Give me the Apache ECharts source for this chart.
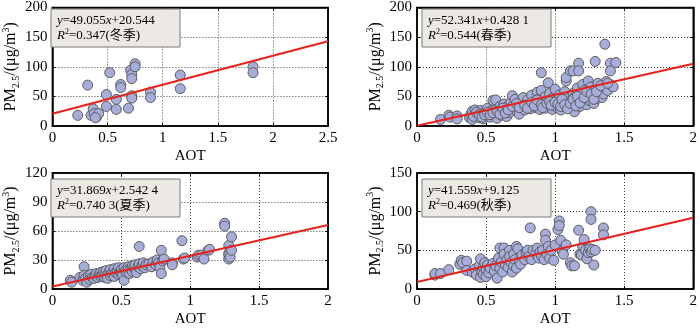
<!DOCTYPE html>
<html>
<head>
<meta charset="utf-8">
<script src="https://cdn.jsdelivr.net/npm/echarts@6/dist/echarts.min.js"></script>
<style>
  html, body { margin: 0; padding: 0; background: #fff; }
  #main { width: 700px; height: 328px; }
</style>
</head>
<body>
<div id="main"></div>
<script>
// 各季节 AOT 与 PM2.5 散点 [AOT, PM2.5]
var winterPts = [[0.23,18],[0.32,69],[0.35,18],[0.37,29],[0.38,21],[0.40,15],[0.42,21],[0.39,14],
  [0.49,33],[0.49,53],[0.52,90],[0.58,28],[0.58,45],[0.62,70],[0.62,65],[0.69,30],[0.71,94],
  [0.72,87],[0.72,80],[0.72,51],[0.72,47],[0.75,105],[0.75,100],[0.89,57],[0.89,48],[1.16,86],
  [1.16,63],[1.82,100],[1.82,90]];

var springPts = [[0.17,11],[0.23,18],[0.24,15],[0.29,17],[0.29,12],[0.38,14],[0.39,20],[0.40,25],[0.40,11],
  [0.42,27],[0.43,18],[0.44,22],[0.45,14],[0.46,26],[0.47,20],[0.48,12],[0.49,24],[0.50,17],[0.51,30],
  [0.52,21],[0.53,15],[0.54,26],[0.55,43],[0.56,19],[0.57,44],[0.57,28],[0.58,13],[0.59,22],[0.60,33],
  [0.61,18],[0.62,25],[0.63,37],[0.64,29],[0.65,16],[0.66,34],[0.67,23],[0.68,40],[0.69,51],[0.70,30],
  [0.71,45],[0.72,26],[0.73,36],[0.74,20],[0.75,42],[0.76,32],[0.77,48],[0.78,27],[0.79,38],[0.80,44],
  [0.81,33],[0.82,29],[0.83,52],[0.84,37],[0.85,41],[0.86,31],[0.87,57],[0.88,35],[0.88,46],[0.89,28],
  [0.90,90],[0.90,60],[0.91,39],[0.92,33],[0.93,50],[0.93,30],[0.94,43],[0.95,73],[0.95,36],[0.96,55],
  [0.97,32],[0.98,47],[0.98,28],[0.99,38],[1.00,62],[1.00,34],[1.01,44],[1.02,30],[1.03,52],[1.03,36],
  [1.04,27],[1.05,40],[1.06,33],[1.07,58],[1.08,76],[1.08,82],[1.08,37],[1.09,46],[1.10,31],[1.11,93],
  [1.11,42],[1.12,35],[1.13,93],[1.13,55],[1.14,24],[1.14,48],[1.15,38],[1.16,64],[1.17,106],[1.17,93],
  [1.17,44],[1.18,33],[1.19,52],[1.20,70],[1.20,40],[1.21,60],[1.22,47],[1.23,36],[1.24,76],[1.24,56],
  [1.25,43],[1.26,66],[1.27,50],[1.28,38],[1.29,109],[1.29,62],[1.30,46],[1.31,72],[1.32,55],[1.33,64],
  [1.34,48],[1.35,54],[1.36,138],[1.36,68],[1.37,75],[1.38,60],[1.40,106],[1.40,93],[1.40,70],[1.42,66],
  [1.44,107],[0.41,16],[0.43,23],[0.45,19],[0.47,15],[0.49,19],[0.51,23],[0.53,19],[0.55,22],[0.58,25],
  [0.60,20],[0.62,30],[0.64,22],[0.66,27],[0.69,33],[0.72,38],[0.74,31],[0.78,35],[0.80,30],[0.83,40],
  [0.85,34],[0.87,44],[0.90,36],[0.91,31],[0.94,38],[0.96,41],[0.97,35],[1.00,40],[1.02,37],[1.04,33],
  [1.05,45],[1.07,36],[1.09,29],[1.11,38],[1.13,45],[1.15,34],[1.16,50],[1.18,39],[1.21,48],[1.23,58],
  [1.26,54],[1.28,45],[1.30,58],[1.33,68],[1.38,72]];

var summerPts = [[0.13,9],[0.14,7],[0.20,12],[0.22,9],[0.23,23],[0.23,14],[0.24,11],[0.25,7],[0.26,13],
  [0.27,10],[0.28,15],[0.29,12],[0.30,11],[0.31,14],[0.32,16],[0.33,12],[0.34,15],[0.35,17],[0.35,13],
  [0.36,14],[0.37,18],[0.38,12],[0.38,16],[0.39,19],[0.40,15],[0.40,11],[0.41,17],[0.42,20],[0.42,14],
  [0.43,16],[0.44,18],[0.45,13],[0.45,21],[0.46,17],[0.47,19],[0.48,15],[0.48,22],[0.49,18],[0.50,20],
  [0.50,16],[0.51,14],[0.52,22],[0.52,9],[0.53,19],[0.54,17],[0.55,23],[0.55,20],[0.56,16],[0.57,21],
  [0.58,24],[0.58,18],[0.59,22],[0.60,20],[0.60,25],[0.61,17],[0.62,23],[0.63,44],[0.63,26],[0.64,21],
  [0.65,24],[0.66,27],[0.67,22],[0.68,25],[0.70,26],[0.72,23],[0.73,28],[0.75,25],[0.76,30],[0.77,27],
  [0.78,22],[0.79,40],[0.79,16],[0.80,29],[0.81,31],[0.87,27],[0.87,25],[0.94,50],[0.95,31],[0.96,32],
  [1.05,33],[1.06,35],[1.08,35],[1.10,31],[1.13,40],[1.14,41],[1.25,68],[1.25,65],[1.28,45],[1.28,37],
  [1.28,35],[1.28,31],[1.29,33],[1.30,54],[1.30,40]];

var autumnPts = [[0.13,18],[0.13,20],[0.17,20],[0.23,25],[0.31,32],[0.32,37],[0.33,34],[0.36,36],[0.36,24],
  [0.40,22],[0.42,26],[0.43,18],[0.45,30],[0.46,39],[0.46,15],[0.47,22],[0.48,28],[0.48,19],[0.49,34],
  [0.50,25],[0.50,16],[0.51,31],[0.52,21],[0.53,27],[0.55,33],[0.56,23],[0.57,30],[0.58,14],[0.59,40],
  [0.60,53],[0.60,27],[0.61,35],[0.62,22],[0.63,53],[0.63,45],[0.64,31],[0.65,38],[0.66,28],[0.67,50],
  [0.67,42],[0.68,34],[0.69,22],[0.70,45],[0.70,30],[0.71,38],[0.72,55],[0.72,27],[0.73,52],[0.74,36],
  [0.75,32],[0.76,44],[0.78,38],[0.79,48],[0.80,50],[0.81,42],[0.82,79],[0.83,38],[0.84,50],[0.86,46],
  [0.87,53],[0.88,40],[0.89,48],[0.90,43],[0.91,50],[0.92,38],[0.93,71],[0.93,63],[0.94,45],[0.95,55],
  [0.96,40],[0.97,50],[0.99,37],[1.00,57],[1.02,77],[1.03,88],[1.03,82],[1.04,63],[1.05,49],[1.06,45],
  [1.08,57],[1.11,34],[1.12,30],[1.14,30],[1.17,76],[1.18,45],[1.19,44],[1.20,55],[1.21,64],[1.22,50],
  [1.23,39],[1.24,47],[1.25,52],[1.26,100],[1.26,90],[1.26,48],[1.27,51],[1.28,31],[1.29,50],[1.35,79],
  [1.35,70]];

// 拟合参数
var fitSlope = [49.055, 52.341, 31.869, 41.559];
var fitIntercept = [20.544, 0.4281, 2.5424, 9.125];
var eqText = ['49.055', '52.341', '31.869', '41.559'];
var eqConst = ['20.544', '0.428 1', '2.542 4', '9.125'];
var r2Text = ['0.347(冬季)', '0.544(春季)', '0.740 3(夏季)', '0.469(秋季)'];

// 坐标轴范围
var xMaxList = [2.5, 2, 2, 2];
var yMaxList = [200, 200, 120, 150];
var yStepList = [50, 50, 30, 50];

var allPts = [winterPts, springPts, summerPts, autumnPts];

var myChart = echarts.init(document.getElementById('main'));

var serif = '"Liberation Serif", "Times New Roman", serif';
var cjk = '"Liberation Serif", "Noto Sans CJK SC", serif';

var boxes = [[48, 5], [417, 5], [48, 173], [417, 173]];
var grid = [], xAxis = [], yAxis = [], series = [], graphic = [];

for (var i = 0; i < 4; i++) {
    grid.push({
        left: boxes[i][0], top: boxes[i][1], width: 280, height: i < 2 ? 121 : 122,
        show: true, borderColor: '#000', borderWidth: 1.5, backgroundColor: '#fff'
    });
    var gx = {
        gridIndex: i, type: 'value', min: 0, max: xMaxList[i], interval: 0.5,
        axisLine: { show: true, onZero: false, lineStyle: { color: '#000', width: 1.5 } },
        axisTick: { show: true, inside: true, length: 3, lineStyle: { color: '#000' } },
        splitLine: { show: true, lineStyle: { color: '#444', type: [1, 2], width: 1 } }
    };
    xAxis.push(Object.assign({}, gx, {
        position: 'bottom',
        name: 'AOT', nameLocation: 'middle', nameGap: 23,
        nameTextStyle: { fontFamily: serif, fontSize: 15, color: '#000' },
        axisLabel: { color: '#000', fontFamily: serif, fontSize: 15, margin: 5 }
    }));
    xAxis.push(Object.assign({}, gx, {
        position: 'top', axisLabel: { show: false }, splitLine: { show: false }
    }));
    var gy = {
        gridIndex: i, type: 'value', min: 0, max: yMaxList[i], interval: yStepList[i],
        axisLine: { show: true, onZero: false, lineStyle: { color: '#000', width: 1.5 } },
        axisTick: { show: true, inside: true, length: 3, lineStyle: { color: '#000' } },
        splitLine: { show: true, lineStyle: { color: '#444', type: [1, 2], width: 1 } }
    };
    yAxis.push(Object.assign({}, gy, {
        position: 'left',
        name: '{a|PM}{s|2.5}{a|/(μg/m}{p|3}{a|)}', nameLocation: 'middle', nameGap: 29,
        nameTextStyle: {
            color: '#000',
            rich: {
                a: { fontFamily: serif, fontSize: 16, color: '#000', lineHeight: 20 },
                s: { fontFamily: serif, fontSize: 10, color: '#000', lineHeight: 10, verticalAlign: 'bottom' },
                p: { fontFamily: serif, fontSize: 10, color: '#000', lineHeight: 10, verticalAlign: 'top' }
            }
        },
        axisLabel: { color: '#000', fontFamily: serif, fontSize: 15, margin: 5 }
    }));
    yAxis.push(Object.assign({}, gy, {
        position: 'right', axisLabel: { show: false }, splitLine: { show: false }
    }));

    series.push({
        type: 'scatter', xAxisIndex: i * 2, yAxisIndex: i * 2,
        data: allPts[i], symbolSize: 10,
        itemStyle: { color: '#a6addb', borderColor: '#5c5c5c', borderWidth: 1, opacity: 1 },
        z: 2
    });
    // 回归线
    series.push({
        type: 'line', xAxisIndex: i * 2, yAxisIndex: i * 2,
        data: [[0, fitIntercept[i]], [xMaxList[i], fitSlope[i] * xMaxList[i] + fitIntercept[i]]],
        symbol: 'none', lineStyle: { color: '#e8221b', width: 2 }, z: 3
    });

    var bx = boxes[i][0] + (i % 2 ? 5 : 3);
    var by = boxes[i][1] + 4 + (i < 2 ? 0 : 2);
    graphic.push({
        type: 'rect', z: 10,
        shape: { x: bx, y: by, width: 129, height: 38 },
        style: { fill: '#ece9e5', stroke: '#7a7a7a', lineWidth: 1 }
    });
    graphic.push({
        type: 'text', z: 11, x: bx + 6, y: by + 4,
        style: {
            text: '{i|y}{n|=' + eqText[i] + '}{i|x}{n|+' + eqConst[i] + '}\n{i|R}{p|2}{n|=' + r2Text[i] + '}',
            rich: {
                i: { fontFamily: serif, fontStyle: 'italic', fontSize: 13, fill: '#000', lineHeight: 15 },
                n: { fontFamily: cjk, fontSize: 13, fill: '#000', lineHeight: 15 },
                p: { fontFamily: serif, fontSize: 8, fill: '#000', lineHeight: 9, verticalAlign: 'top' }
            }
        }
    });
}

var option = {
    backgroundColor: '#fff',
    animation: false,
    grid: grid,
    xAxis: xAxis,
    yAxis: yAxis,
    series: series,
    graphic: graphic
};

myChart.setOption(option);
</script>
</body>
</html>
